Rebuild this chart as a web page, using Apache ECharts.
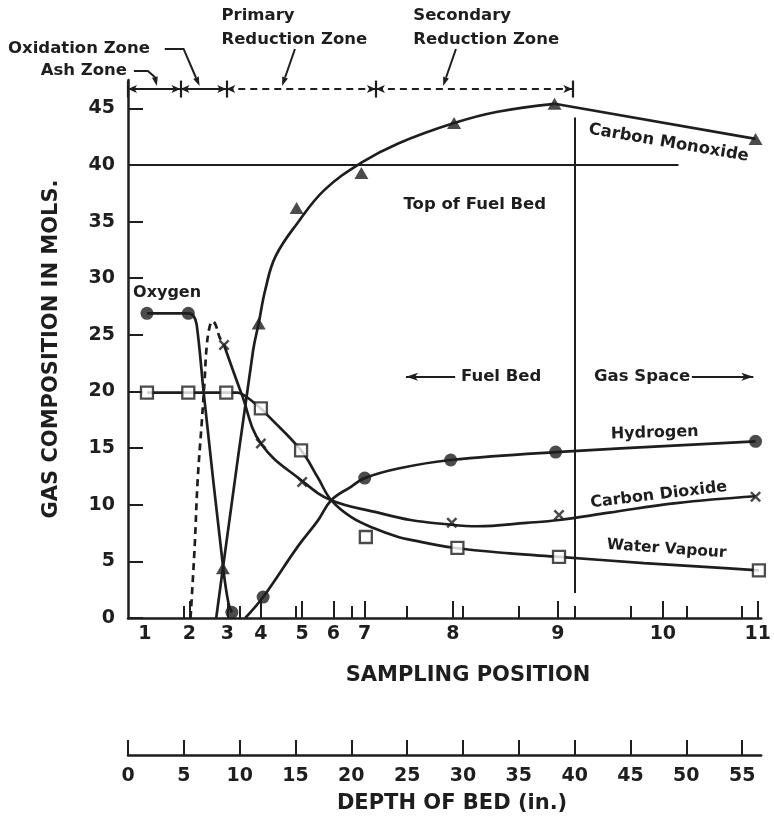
<!DOCTYPE html>
<html>
<head>
<meta charset="utf-8">
<script src="https://cdn.jsdelivr.net/npm/echarts@6/dist/echarts.min.js"></script>
<style>
  html, body { margin: 0; padding: 0; background: #fff; }
  #chart { width: 774px; height: 820px; }
</style>
</head>
<body>
<div id="chart"></div>
<script>
const INK = '#1e1e1e';
const FONT = 'DejaVu Sans';

// Sampling positions and their depth in the bed (in.)
const positionLabels = ['1', '2', '3', '4', '5', '6', '7', '8', '9', '10', '11'];
const positionDepth = [1.5, 5.5, 8.9, 11.9, 15.6, 18.4, 21.2, 29.1, 38.5, 47.9, 56.4];
const depthTicks = [0, 5, 10, 15, 20, 25, 30, 35, 40, 45, 50, 55];
const gasTicks = [0, 5, 10, 15, 20, 25, 30, 35, 40, 45];

// Measured compositions, [depth in., mols]
const oxygenPoints = [[1.7, 26.9], [5.4, 26.9], [9.3, 0.5]];
const hydrogenPoints = [[12.1, 1.85], [21.2, 12.35], [28.9, 13.95], [38.3, 14.65], [56.2, 15.6]];
const monoxidePoints = [[8.5, 4.4], [11.7, 26.0], [15.1, 36.2], [20.9, 39.3], [29.2, 43.7], [38.2, 45.4], [56.2, 42.3]];
const dioxidePoints = [[8.6, 24.1], [11.9, 15.4], [15.6, 12.0], [29.0, 8.4], [38.6, 9.1], [56.2, 10.7]];
const vapourPoints = [[1.7, 19.9], [5.4, 19.9], [8.8, 19.9], [11.9, 18.5], [15.5, 14.8], [21.3, 7.15], [29.5, 6.2], [38.6, 5.4], [56.5, 4.2]];

// Faired curves through the readings
const oxygenCurve = [[1.7, 26.9], [5.4, 26.9], [5.85, 26.7], [6.15, 25.9], [6.8, 19.7], [8.55, 4.2], [9.0, 1.3], [9.3, 0.5]];
const hydrogenCurve = [[10.5, 0], [12.1, 1.85], [15.2, 6.3], [17.0, 8.6], [18.2, 10.4], [20.0, 11.6], [21.2, 12.35], [24.2, 13.2], [28.9, 13.95], [38.3, 14.65], [56.2, 15.6]];
const monoxideCurve = [[7.9, 0], [8.5, 4.4], [11.2, 23.6], [11.7, 26.0], [12.3, 29.0], [13.2, 31.9], [15.2, 34.9], [17.6, 37.8], [20.9, 40.2], [24.2, 41.9], [29.2, 43.7], [33.1, 44.7], [38.2, 45.4], [56.2, 42.3]];
const dioxideEstimate = [[5.6, 0], [5.97, 6.3], [6.24, 12.2], [6.6, 17.2], [6.86, 21.0], [7.04, 23.9], [7.31, 25.7], [7.58, 26.2], [7.84, 25.9], [8.2, 24.8], [8.6, 24.1]];
const dioxideCurve = [[8.6, 24.1], [10.2, 19.7], [11.9, 15.4], [15.6, 12.1], [18.2, 10.4], [22.4, 9.3], [25.3, 8.65], [28.3, 8.3], [31.3, 8.1], [35.7, 8.4], [38.6, 8.65], [43.1, 9.3], [49.1, 10.15], [56.2, 10.75]];
const vapourCurve = [[1.7, 19.9], [9.8, 19.9], [10.5, 19.6], [11.9, 18.5], [12.4, 18.0], [15.5, 14.8], [17.0, 12.4], [18.2, 10.4], [20.0, 8.9], [22.1, 7.9], [24.2, 7.15], [25.3, 6.9], [29.2, 6.2], [34.2, 5.7], [38.6, 5.4], [46.2, 4.85], [52.0, 4.5], [56.5, 4.2]];

// Zones of the producer (depth in.) and the bed reference lines
const zoneEdges = [0, 4.7, 8.8, 22.2, 39.8];
const zoneLevel = 46.7;
const fuelBedTopDepth = 40;
const fuelBedTopLevel = 40;

const crossPath = 'path://M0,1.6 L1.6,0 L5,3.4 L8.4,0 L10,1.6 L6.6,5 L10,8.4 L8.4,10 L5,6.6 L1.6,10 L0,8.4 L3.4,5 Z';

function curve(data, opts) {
  opts = opts || {};
  return {
    type: 'line', data: data, smooth: opts.straight ? false : 0.4,
    symbol: 'none', silent: true, z: 2,
    lineStyle: { color: INK, width: 2.7, type: opts.dashed ? [7, 5] : 'solid' }
  };
}
function marks(data, symbol, size, hollow) {
  return {
    type: 'scatter', data: data, symbol: symbol, symbolSize: size, silent: true, z: 4, clip: false,
    itemStyle: hollow
      ? { color: '#fff', borderColor: INK, borderWidth: 2.3 }
      : { color: INK }
  };
}

const seg = (a, b, extra) => [Object.assign({ coord: a }, extra || {}), { coord: b }];

const refLines = [
  seg([0, fuelBedTopLevel], [49.3, fuelBedTopLevel], { lineStyle: { width: 2 } }),
  seg([fuelBedTopDepth, 2.2], [fuelBedTopDepth, 44.2], { lineStyle: { width: 2 } })
];
zoneEdges.forEach(d => refLines.push(seg([d, 45.95], [d, 47.45], { lineStyle: { width: 2.2 } })));

const zoneLines = [];
for (let i = 0; i < zoneEdges.length - 1; i++) {
  zoneLines.push([
    { coord: [zoneEdges[i], zoneLevel], symbol: 'arrow', symbolSize: [6, 9],
      lineStyle: { width: 2.2, type: i < 2 ? 'solid' : [7, 5] } },
    { coord: [zoneEdges[i + 1], zoneLevel], symbol: 'arrow', symbolSize: [6, 9] }
  ]);
}
const bedArrows = [
  [{ coord: [29.3, 21.3], symbol: 'none' }, { coord: [24.9, 21.3], symbol: 'arrow', symbolSize: [6, 12] }],
  [{ coord: [50.5, 21.3], symbol: 'none' }, { coord: [56.0, 21.3], symbol: 'arrow', symbolSize: [6, 12] }]
];

const axisText = { color: INK, fontFamily: FONT, fontWeight: 'bold', fontSize: 19 };
const nameText = { color: INK, fontFamily: FONT, fontWeight: 'bold', fontSize: 21 };

const option = {
  animation: false,
  backgroundColor: '#ffffff',
  textStyle: { fontFamily: FONT },
  grid: { left: 128, right: 9, top: 80, bottom: 202 },
  xAxis: [
    {
      type: 'value', min: 0, max: 56.7, position: 'bottom',
      axisLine: { onZero: false, lineStyle: { color: INK, width: 2.5 } },
      axisTick: { inside: true, length: 17, customValues: positionDepth.slice(1), lineStyle: { color: INK, width: 2 } },
      axisLabel: Object.assign({ margin: 7, customValues: positionDepth,
        formatter: v => positionLabels[positionDepth.indexOf(v)] }, axisText),
      splitLine: { show: false },
      name: 'SAMPLING POSITION', nameLocation: 'middle', nameGap: 47,
      nameTextStyle: Object.assign({ padding: [0, 0, 0, 47] }, nameText)
    },
    {
      type: 'value', min: 0, max: 56.7, position: 'bottom',
      axisLine: { show: false, onZero: false },
      axisTick: { inside: true, length: 12, customValues: depthTicks.slice(1), lineStyle: { color: INK, width: 2 } },
      axisLabel: { show: false },
      splitLine: { show: false }
    },
    {
      type: 'value', min: 0, max: 56.7, position: 'bottom', offset: 137,
      axisLine: { onZero: false, lineStyle: { color: INK, width: 2.5 } },
      axisTick: { inside: true, length: 15, customValues: depthTicks, lineStyle: { color: INK, width: 2 } },
      axisLabel: Object.assign({ margin: 12, customValues: depthTicks }, axisText),
      splitLine: { show: false },
      name: 'DEPTH OF BED (in.)', nameLocation: 'middle', nameGap: 38,
      nameTextStyle: Object.assign({ padding: [0, 0, 0, 15] }, nameText)
    }
  ],
  yAxis: {
    type: 'value', min: 0, max: 47.5,
    axisLine: { show: true, onZero: false, lineStyle: { color: INK, width: 2.5 } },
    axisTick: { show: true, inside: true, length: 15, customValues: gasTicks, lineStyle: { color: INK, width: 2 } },
    axisLabel: Object.assign({ margin: 13, customValues: gasTicks }, axisText),
    splitLine: { show: false },
    name: 'GAS COMPOSITION IN MOLS.', nameLocation: 'middle', nameGap: 66,
    nameTextStyle: nameText
  },
  series: [
    curve(oxygenCurve),
    curve(hydrogenCurve),
    curve(monoxideCurve.slice(0, -1)),
    curve(monoxideCurve.slice(-2), { straight: true }),
    curve(dioxideEstimate, { dashed: true }),
    curve(dioxideCurve),
    curve(vapourCurve),
    marks(oxygenPoints, 'circle', 13),
    marks(hydrogenPoints, 'circle', 13),
    marks(monoxidePoints, 'triangle', [14, 12]),
    marks(dioxidePoints, crossPath, 11),
    marks(vapourPoints, 'rect', 12, true),
    {
      type: 'line', data: [], silent: true,
      markLine: { silent: true, symbol: 'none', label: { show: false }, animation: false,
        lineStyle: { color: INK, width: 2, type: 'solid' }, data: refLines }
    },
    {
      type: 'line', data: [], silent: true,
      markLine: { silent: true, label: { show: false }, animation: false,
        lineStyle: { color: INK, width: 2.2, type: 'solid' }, data: zoneLines.concat(bedArrows) }
    }
  ]
};

const chart = echarts.init(document.getElementById('chart'), null, { renderer: 'canvas' });
chart.setOption(option);

// Captions and leader arrows, anchored in the chart's data space
const px = p => chart.convertToPixel({ gridIndex: 0 }, p);

function caption(text, at, align, size, rotation) {
  const p = px(at);
  return {
    type: 'text', x: p[0], y: p[1], rotation: rotation || 0, silent: true, z: 10,
    style: { text: text, fill: INK, fontFamily: FONT, fontWeight: 'bold', fontSize: size,
      align: align, verticalAlign: 'middle' }
  };
}
function leader(points) {
  const pts = points.map(px);
  const tip = pts[pts.length - 1], prev = pts[pts.length - 2];
  const dx = tip[0] - prev[0], dy = tip[1] - prev[1];
  const len = Math.hypot(dx, dy) || 1;
  const ux = dx / len, uy = dy / len;
  const bx = tip[0] - ux * 9, by = tip[1] - uy * 9;
  return [
    { type: 'polyline', silent: true, z: 10, shape: { points: pts.slice(0, -1).concat([[bx, by]]) },
      style: { stroke: INK, lineWidth: 2, fill: null } },
    { type: 'polygon', silent: true, z: 10,
      shape: { points: [tip, [bx - uy * 3, by + ux * 3], [bx + uy * 3, by - ux * 3]] },
      style: { fill: INK } }
  ];
}

const graphics = [
  caption('Primary', [8.37, 53.15], 'left', 16.5),
  caption('Reduction Zone', [8.37, 51.1], 'left', 16.5),
  caption('Secondary', [25.55, 53.15], 'left', 16.5),
  caption('Reduction Zone', [25.55, 51.1], 'left', 16.5),
  caption('Oxidation Zone', [1.96, 50.24], 'right', 16.5),
  caption('Ash Zone', [-0.09, 48.3], 'right', 16.5),
  caption('Oxygen', [0.45, 28.7], 'left', 16),
  caption('Top of Fuel Bed', [31.06, 36.46], 'center', 16.5),
  caption('Fuel Bed', [29.82, 21.28], 'left', 16.5),
  caption('Gas Space', [41.74, 21.28], 'left', 16.5),
  caption('Carbon Monoxide', [48.42, 41.94], 'center', 16.5, -0.17),
  caption('Hydrogen', [47.17, 16.33], 'center', 16, 0.03),
  caption('Carbon Dioxide', [47.53, 10.86], 'center', 16, 0.12),
  caption('Water Vapour', [48.24, 6.09], 'center', 15.5, -0.07)
]
  .concat(leader([[3.29, 50.24], [4.98, 50.24], [6.41, 46.97]]))
  .concat(leader([[0.53, 48.3], [1.78, 48.3], [2.4, 47.77], [2.58, 46.97]]))
  .concat(leader([[14.95, 50.24], [13.8, 46.97]]))
  .concat(leader([[29.37, 50.24], [28.22, 46.97]]));

chart.setOption({ graphic: graphics });
</script>
</body>
</html>
